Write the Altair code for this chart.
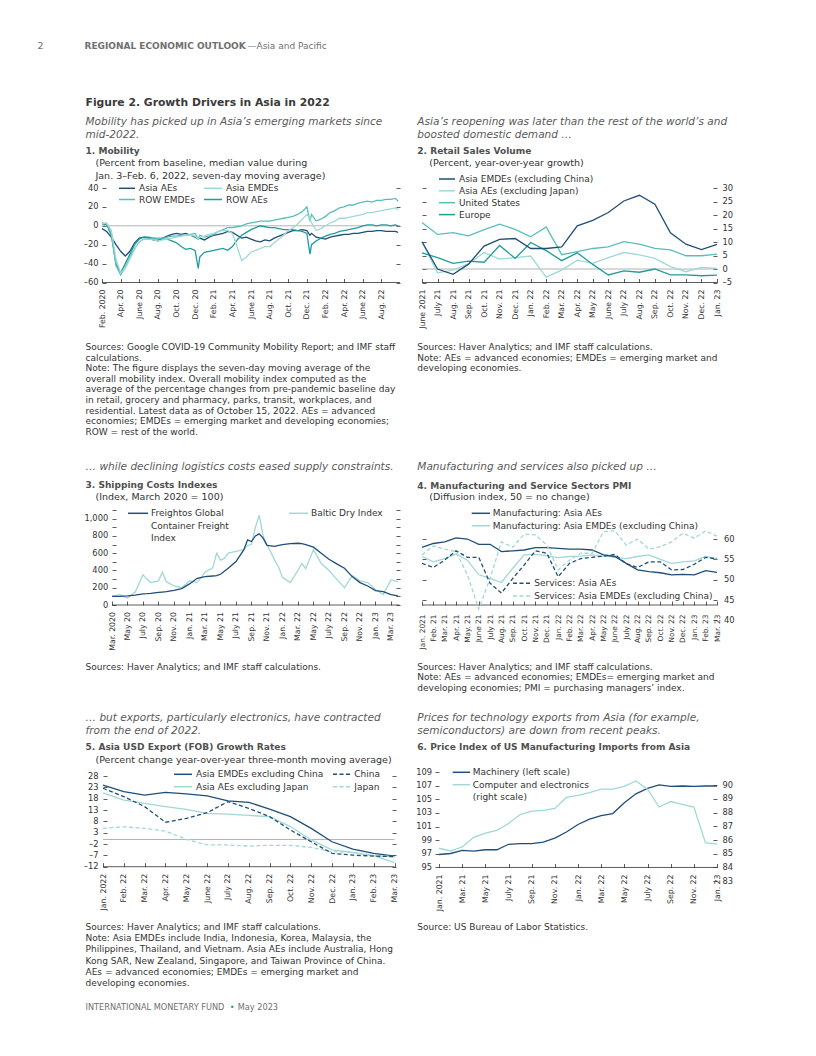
import altair as alt
import pandas as pd

FONT = "DejaVu Sans"
NAVY = "#1f4e79"
TEAL = "#1f9d9b"
MID = "#58bebc"
LIGHT = "#a0d8d6"
ZERO = "#a0a0a0"
INK = "#333333"
LEADC = "#5a5a5a"
HEADC = "#707070"
TITLEC = "#3a3a3a"
SUBC = "#505050"

# ---------------- Panel 1: Mobility ----------------
P1_T = [0, 0.5, 1, 1.5, 2, 2.5, 3, 3.5, 4, 4.5,
        5, 5.5, 6, 6.5, 7, 7.5, 8, 8.5, 9, 9.5,
        10, 10.33, 10.5, 11, 11.5, 12, 12.5, 13, 13.5, 14,
        14.5, 15, 15.5, 16, 16.5, 17, 17.5, 18, 18.5, 19,
        19.5, 20, 20.5, 21, 21.5, 22, 22.33, 22.5, 23, 23.5,
        24, 24.5, 25, 25.5, 26, 26.5, 27, 27.5, 28, 28.5,
        29, 29.5, 30, 30.5, 31, 31.5, 31.8]
P1_ASIA_AES = [-3, -6, -12, -20, -27, -32, -27, -18, -13, -12,
               -13, -15, -16, -13, -11, -9, -8, -9, -8, -10,
               -12, -14, -13, -15, -12, -10, -9, -8, -6, -7,
               -10, -13, -12, -14, -16, -17, -15, -16, -13, -11,
               -9, -7, -5, -5, -4, -5, -10, -8, -12, -13,
               -14, -12, -11, -10, -9, -9, -8, -8, -7, -6,
               -6, -5, -5, -6, -6, -6, -7]
P1_ASIA_EMDES = [2, 3, -5, -35, -50, -45, -35, -25, -17, -14,
                 -14, -15, -16, -15, -14, -13, -12, -11, -10, -10,
                 -11, -14, -12, -11, -9, -8, -6, -5, -5, -8,
                 -22, -37, -33, -28, -26, -24, -22, -22, -18, -14,
                 -10, -5, -2, 2, 7, 12, 8, 3, -5, -3,
                 0, 3, 5, 8, 8, 9, 10, 11, 12, 14,
                 14, 15, 16, 17, 18, 19, 17]
P1_ROW_EMDES = [3, 2, -8, -42, -52, -44, -33, -24, -17, -14,
                -14, -13, -13, -13, -12, -11, -11, -10, -10, -9,
                -8, -14, -10, -12, -11, -9, -6, -4, -2, -2,
                -1, 0, 2, 3, 4, 5, 5, 5, 6, 7,
                8, 9, 10, 12, 15, 20, 5, 12, 5, 7,
                10, 14, 16, 19, 20, 22, 22, 24, 25, 26,
                25, 27, 27, 28, 28, 29, 26]
P1_ROW_AES = [2, 1, -10, -40, -50, -40, -30, -20, -14, -12,
              -12, -13, -14, -14, -14, -16, -18, -22, -25, -24,
              -26, -45, -33, -28, -27, -26, -25, -24, -26, -22,
              -15, -10, -7, -4, -2, 0, -1, -2, -2, -3,
              -4, -4, -4, -5, -6, -8, -30, -20, -16, -13,
              -11, -9, -8, -6, -5, -4, -3, -2, 0, 1,
              1, 0, 1, 1, 0, 1, 0]
P1_XTICKS = list(range(0, 31, 2))
P1_XLABELS = ["Feb. 2020", "Apr. 20", "June 20", "Aug. 20", "Oct. 20", "Dec. 20",
              "Feb. 21", "Apr. 21", "June 21", "Aug. 21", "Oct. 21", "Dec. 21",
              "Feb. 22", "Apr. 22", "June 22", "Aug. 22"]
P1_YTICKS = [-60, -40, -20, 0, 20, 40]
P1_YLABELS = ["\u201360", "\u201340", "\u201320", "0", "20", "40"]

# ---------------- Panel 2: Retail sales ----------------
P2_X = list(range(20))
P2_ASIA_EMDES = [10.1, 0, -2, 1.8, 8.5, 11, 11.3, 7.6, 7.6, 8.2, 16, 18, 20.9, 25.2, 27.3, 24, 13.4, 9.2, 7.2, 9.1]
P2_ASIA_AES = [10, -1.4, -0.4, 2, 6.1, 3.7, 4.2, 4.8, -3, -0.4, 3.3, 2.1, 4.2, 6.1, 5.2, 3.9, 0.9, -1, 0.6, 0.2]
P2_US = [17.2, 12.8, 13.5, 12.3, 14.6, 16.6, 14.7, 11.9, 15.6, 5.3, 6.4, 7.6, 8.2, 10.1, 9.2, 7.6, 7.1, 4.9, 4.9, 5.5]
P2_EUROPE = [6, 4.2, 2.1, 2.9, 2.5, 8.7, 3.9, 9.8, 6.8, 3.1, 6, 1.7, -2.2, -0.7, -1.2, 0, -2.2, -2.2, -2.5, -2.3]
P2_XLABELS = ["June 2021", "July 21", "Aug. 21", "Sep. 21", "Oct. 21", "Nov. 21", "Dec. 21",
              "Jan. 22", "Feb. 22", "Mar. 22", "Apr. 22", "May 22", "June 22", "July 22",
              "Aug. 22", "Sep. 22", "Oct. 22", "Nov. 22", "Dec. 22", "Jan. 23"]
P2_YTICKS = [-5, 0, 5, 10, 15, 20, 25, 30]
P2_YLABELS = ["\u20135", "0", "5", "10", "15", "20", "25", "30"]

# ---------------- Panel 3: Shipping costs ----------------
P3_T = [0, 1, 2, 3, 4, 4.5, 5, 6, 6.5, 7,
        8, 9, 10, 11, 12, 13, 13.5, 14, 14.5, 15,
        16, 17, 17.5, 18, 18.5, 19, 19.5, 20, 21, 21.5,
        22, 23, 24, 24.5, 25, 26, 27, 28, 29, 30,
        31, 32, 33, 34, 35, 36, 36.9]
P3_FREIGHTOS = [100, 100, 105, 115, 130, 132, 135, 145, 150, 155,
                170, 190, 244, 309, 329, 336, 340, 356, 390, 425,
                503, 638, 754, 735, 800, 824, 774, 690, 680, 690,
                700, 710, 715, 710, 700, 670, 600, 530, 476, 425,
                329, 259, 220, 166, 155, 120, 105]
P3_BALTIC = [100, 120, 80, 150, 350, 300, 260, 280, 380, 270,
             220, 200, 280, 260, 380, 430, 600, 520, 540, 600,
             620, 640, 690, 700, 900, 1040, 800, 700, 520, 440,
             320, 260, 400, 480, 420, 640, 480, 400, 300, 200,
             340, 280, 260, 180, 120, 290, 270]
P3_XTICKS = list(range(0, 37, 2))
P3_XLABELS = ["Mar. 2020", "May 20", "July 20", "Sep. 20", "Nov. 20", "Jan. 21", "Mar. 21",
              "May 21", "July 21", "Sep. 21", "Nov. 21", "Jan. 22", "Mar. 22", "May 22",
              "July 22", "Sep. 22", "Nov. 22", "Jan. 23", "Mar. 23"]
P3_YTICKS = list(range(0, 1101, 100))
P3_YLABELS = ["0", "", "200", "", "400", "", "600", "", "800", "", "1,000", ""]

# ---------------- Panel 4: PMI ----------------
P4_X = list(range(27))
P4_MAN_AES = [57.95, 58.9, 59.3, 60.3, 60, 58.7, 58.7, 56.9, 57.1, 57.3, 57.9, 57.9, 57.7, 57.5,
              57.5, 57.3, 56.1, 55.7, 54, 52.4, 52, 51.7, 51.2, 51.3, 51.2, 52.2, 51.8]
P4_MAN_EMDES = [55.7, 54.4, 55.2, 56.3, 54.8, 51.2, 50.3, 49.3, 52.8, 56.1, 56.2, 55.9, 55.4, 55.7,
                55.8, 56.1, 55.8, 55.5, 55.2, 55.7, 56.1, 55, 54, 54.4, 54.6, 55.7, 55.1]
P4_SER_AES = [54, 53, 54.8, 57.1, 55.5, 55.5, 49.1, 46.7, 50.3, 53.6, 57.1, 56.5, 50.7, 54,
              55.2, 55.5, 55.8, 56.2, 53.9, 53, 54.4, 54.4, 52.4, 52.5, 53.8, 55.5, 55.1]
P4_SER_EMDES = [56.1, 58.3, 57.5, 56.9, 51.2, 42.8, 50.3, 59.3, 58, 61.2, 61, 58.5, 52.4, 54.8,
                56.5, 56.5, 61.8, 62, 58.5, 60, 57.5, 58.1, 59.3, 61.4, 60.2, 62, 60.7]
P4_XLABELS = ["Jan. 2021", "Feb. 21", "Mar. 21", "Apr. 21", "May. 21", "June 21", "July 21",
              "Aug. 21", "Sep. 21", "Oct. 21", "Nov. 21", "Dec. 21", "Jan. 22", "Feb. 22",
              "Mar. 22", "Apr. 22", "May 22", "June 22", "July 22", "Aug. 22", "Sep. 22",
              "Oct. 22", "Nov. 22", "Dec. 22", "Jan. 23", "Feb. 23", "Mar. 23"]
P4_YTICKS = [40, 45, 50, 55, 60]
P4_YLABELS = ["40", "45", "50", "55", "60"]
P4_BASE = 43.77

# ---------------- Panel 5: Exports ----------------
P5_X = list(range(15))
P5_EMDES_EX_CHINA = [24, 21.1, 19.6, 20.8, 20.1, 19.2, 17, 16.4, 13.4, 10.1, 4.9, -1, -4.2, -6.1, -7.3]
P5_AES_EX_JAPAN = [20.6, 17.4, 15.9, 14.5, 13.3, 11.5, 11.2, 10.6, 10.1, 5.7, -0.2, -4.6, -5.7, -7.1, -10.2]
P5_CHINA = [22.6, 18.9, 14.5, 7.6, 9.3, 11.8, 16.7, 13.7, 10.1, 4.2, -1, -6.1, -6.9, -7.3, -7.6]
P5_JAPAN = [4.9, 5.6, 4.9, 3.7, 0.1, -2.4, -2.4, -2.9, -2.6, -2.6, -3.5, -5.4, -5.7, -7.1, -7.6]
P5_XLABELS = ["Jan. 2022", "Feb. 22", "Mar. 22", "Apr. 22", "May 22", "June 22", "July 22",
              "Aug. 22", "Sep. 22", "Oct. 22", "Nov. 22", "Dec. 22", "Jan. 23", "Feb. 23", "Mar. 23"]
P5_YTICKS = [-12, -7, -2, 3, 8, 13, 18, 23, 28]
P5_YLABELS = ["\u201312", "\u20137", "\u20132", "3", "8", "13", "18", "23", "28"]

# ---------------- Panel 6: US import prices ----------------
P6_X = list(range(25))
P6_MACHINERY = [96.9, 97.05, 97.5, 97.4, 97.6, 97.6, 98.4, 98.5, 98.5, 98.7, 99.3, 100.2, 101.3,
                102.1, 102.6, 102.9, 104.5, 105.8, 106.6, 107.1, 106.9, 106.95, 106.9, 106.95, 106.95]
P6_COMPUTER = [85.4, 85.2, 85.5, 86.2, 86.5, 86.7, 87.2, 87.85, 88.1, 88.15, 88.3, 89.1, 89.25,
               89.45, 89.7, 89.7, 89.9, 90.3, 89.7, 88.4, 88.8, 88.6, 88.4, 85.8, 85.7]
P6_XTICKS = list(range(0, 25, 2))
P6_XLABELS = ["Jan. 2021", "Mar. 21", "May 21", "July 21", "Sep. 21", "Nov. 21", "Jan. 22",
              "Mar. 22", "May 22", "July 22", "Sep. 22", "Nov. 22", "Jan. 23"]
P6_YL_TICKS = [95, 97, 99, 101, 103, 105, 107, 109]
P6_YL_LABELS = ["95", "97", "99", "101", "103", "105", "107", "109"]
P6_YR_TICKS = [83, 84, 85, 86, 87, 88, 89, 90]
P6_YR_LABELS = ["83", "84", "85", "86", "87", "88", "89", "90"]

# ---------------- Texts ----------------
HEADER = [("2", 37.5, 45.5, 9.5, "normal", "normal", HEADC),
          ("REGIONAL ECONOMIC OUTLOOK", 84.5, 45.5, 9.0, "bold", "normal", HEADC),
          ("\u2014Asia and Pacific", 247.5, 45.5, 9.0, "normal", "normal", HEADC),
          ("Figure 2. Growth Drivers in Asia in 2022", 85.5, 102.5, 10.8, "bold", "normal", TITLEC)]

NOTES1 = ["Sources: Google COVID-19 Community Mobility Report; and IMF staff",
          "calculations.",
          "Note: The figure displays the seven-day moving average of the",
          "overall mobility index. Overall mobility index computed as the",
          "average of the percentage changes from pre-pandemic baseline day",
          "in retail, grocery and pharmacy, parks, transit, workplaces, and",
          "residential. Latest data as of October 15, 2022. AEs = advanced",
          "economies; EMDEs = emerging market and developing economies;",
          "ROW = rest of the world."]
NOTES2 = ["Sources: Haver Analytics; and IMF staff calculations.",
          "Note: AEs = advanced economies; EMDEs = emerging market and",
          "developing economies."]
NOTES3 = ["Sources: Haver Analytics; and IMF staff calculations."]
NOTES4 = ["Sources: Haver Analytics; and IMF staff calculations.",
          "Note: AEs = advanced economies; EMDEs= emerging market and",
          "developing economies; PMI = purchasing managers\u2019 index."]
NOTES5 = ["Sources: Haver Analytics; and IMF staff calculations.",
          "Note: Asia EMDEs include India, Indonesia, Korea, Malaysia, the",
          "Philippines, Thailand, and Vietnam. Asia AEs include Australia, Hong",
          "Kong SAR, New Zealand, Singapore, and Taiwan Province of China.",
          "AEs = advanced economies; EMDEs = emerging market and",
          "developing economies."]
NOTES6 = ["Source: US Bureau of Labor Statistics."]

LX = 85.5   # left column text start
RX = 417.3  # right column text start
NS = 9.0    # note font size
LS = 9.0    # legend font size
PS = 9.5    # parenthetical font size
TS = 9.05   # panel title font size
LEAD_S = 10.55
YLS = 8.3   # y tick label size
XLS = 7.8   # x tick label size


def T(txt, x, y, size=LS, weight="normal", style="normal", color=INK):
    return (txt, x, y, size, weight, style, color)


def lead(lines, x, y0):
    return [T(l, x, y0 + 13 * i, LEAD_S, "normal", "italic", LEADC) for i, l in enumerate(lines)]


def notes(lines, x, y0, step):
    return [T(l, x, y0 + step * i, NS) for i, l in enumerate(lines)]


def lab_expr(values, labels):
    expr = "''"
    for v, l in reversed(list(zip(values, labels))):
        expr = "datum.value == %s ? '%s' : %s" % (repr(v), l, expr)
    return expr


def xaxis(vals, labels, pad=6.5, size=XLS, offset=-4):
    return alt.Axis(orient="bottom", values=vals, labelExpr=lab_expr(vals, labels), labelAngle=-90,
                    labelFontSize=size, labelColor=INK, labelPadding=pad, labelOverlap=False,
                    labelFlush=False, tickSize=4, tickColor=INK, tickWidth=0.8, domain=False,
                    grid=False, offset=offset, title=None)


def yaxis(orient, vals, labels=None, offset=-4, pad=4, ticks=True, size=YLS):
    kw = dict(orient=orient, values=vals, tickSize=4, tickColor=INK, tickWidth=0.8, domain=False,
              grid=False, offset=offset, title=None, labelFontSize=size, labelColor=INK,
              labelPadding=pad, labelOverlap=False, ticks=ticks)
    if labels is None:
        kw["labels"] = False
    else:
        kw["labelExpr"] = lab_expr(vals, labels)
    return alt.Axis(**kw)


def line_df(x, items):
    rows = []
    for name, vals, color in items:
        for a, b in zip(x, vals):
            rows.append({"x": a, "v": b, "s": name, "c": color})
    return pd.DataFrame(rows)


def text_layers(items, ox, oy):
    out = []
    for txt, px, py, size, weight, style, color in items:
        out.append(alt.Chart(pd.DataFrame({"t": [txt]})).mark_text(
            align="left", baseline="middle", fontSize=size, fontWeight=weight,
            fontStyle=style, color=color).encode(
            text="t:N", x=alt.value(px - ox), y=alt.value(py - oy)))
    return out


def legend_layers(items, ox, oy):
    out = []
    for x1, x2, y, color, dashed in items:
        kw = {"strokeDash": [4, 2.5]} if dashed else {}
        out.append(alt.Chart(pd.DataFrame({"a": [0]})).mark_rule(
            color=color, strokeWidth=1.5, **kw).encode(
            x=alt.value(x1 - ox), x2=alt.value(x2 - ox), y=alt.value(y - oy)))
    return out


def box_layer(box, ox, oy):
    bx1, by1, bx2, by2 = box
    return alt.Chart(pd.DataFrame({"a": [0]})).mark_rule(opacity=0).encode(
        x=alt.value(bx1 - ox), x2=alt.value(bx2 - ox), y=alt.value(by1 - oy), y2=alt.value(by2 - oy))


def single_panel(ox, oy, W, H, xdom, ydom, x, solid, dashed, xax, yleft, yright,
                 texts, legend, box, xrange=None, zero=False, base=None):
    skw = dict(domain=xdom, nice=False, zero=False)
    if xrange is not None:
        skw["range"] = xrange
    xs = alt.Scale(**skw)
    ys = alt.Scale(domain=ydom, nice=False, zero=False)
    layers = []
    rules = [{"x0": xdom[0], "x1": xdom[1], "v": ydom[0] if base is None else base, "c": INK}]
    if zero:
        rules.insert(0, {"x0": xdom[0], "x1": xdom[1], "v": 0, "c": ZERO})
    layers.append(alt.Chart(pd.DataFrame(rules)).mark_rule(strokeWidth=0.8).encode(
        x=alt.X("x0:Q", scale=xs, axis=None), x2="x1:Q",
        y=alt.Y("v:Q", scale=ys, axis=None), color=alt.Color("c:N", scale=None)))
    sdf = line_df(x, solid)
    layers.append(alt.Chart(sdf).mark_line(strokeWidth=1.3).encode(
        x=alt.X("x:Q", scale=xs, axis=xax), y=alt.Y("v:Q", scale=ys, axis=yleft),
        color=alt.Color("c:N", scale=None), detail="s:N"))
    if dashed:
        ddf = line_df(x, dashed)
        layers.append(alt.Chart(ddf).mark_line(strokeWidth=1.3, strokeDash=[4, 2.5]).encode(
            x=alt.X("x:Q", scale=xs, axis=None), y=alt.Y("v:Q", scale=ys, axis=None),
            color=alt.Color("c:N", scale=None), detail="s:N"))
    layers.append(alt.Chart(sdf).mark_line(opacity=0).encode(
        x=alt.X("x:Q", scale=xs, axis=None), y=alt.Y("v:Q", scale=ys, axis=yright), detail="s:N"))
    layers += legend_layers(legend, ox, oy)
    layers += text_layers(texts, ox, oy)
    layers.append(box_layer(box, ox, oy))
    return alt.layer(*layers).properties(width=W, height=H).resolve_axis(x="independent", y="independent")


# ---------------- Panel 1 ----------------
O1 = (102, 188)
p1_texts = HEADER + lead(["Mobility has picked up in Asia\u2019s emerging markets since", "mid-2022."], LX, 121.5) + [
    T("1. Mobility", LX, 151.2, TS, "bold", "normal", SUBC),
    T("(Percent from baseline, median value during", 95.5, 163.2, PS),
    T("Jan. 3\u2013Feb. 6, 2022, seven-day moving average)", 95.5, 176, PS),
    T("Asia AEs", 139, 188.3), T("Asia EMDEs", 226, 188.3),
    T("ROW EMDEs", 139, 199.5), T("ROW AEs", 226, 199.5)] + notes(NOTES1, LX, 347, 10.6)
p1 = single_panel(
    O1[0], O1[1], 298, 94.5, [0, 32], [-60, 40], P1_T,
    [("Asia AEs", P1_ASIA_AES, NAVY), ("ROW AEs", P1_ROW_AES, TEAL),
     ("ROW EMDEs", P1_ROW_EMDES, MID), ("Asia EMDEs", P1_ASIA_EMDES, LIGHT)], [],
    xaxis(P1_XTICKS, P1_XLABELS), yaxis("left", P1_YTICKS, P1_YLABELS, pad=4),
    yaxis("right", P1_YTICKS, None),
    p1_texts,
    [(119, 135, 188.3, NAVY, False), (204, 222, 188.3, LIGHT, False),
     (119, 135, 199.5, MID, False), (204, 222, 199.5, TEAL, False)],
    (8, 8, 408, 452), zero=True)

# ---------------- Panel 2 ----------------
O2 = (422, 188)
p2_texts = lead(["Asia\u2019s reopening was later than the rest of the world\u2019s and", "boosted domestic demand \u2026"], RX, 121.5) + [
    T("2. Retail Sales Volume", RX, 151.2, TS, "bold", "normal", SUBC),
    T("(Percent, year-over-year growth)", 429.3, 163.2, PS),
    T("Asia EMDEs (excluding China)", 459, 179), T("Asia AEs (excluding Japan)", 459, 190.8),
    T("United States", 459, 202.7), T("Europe", 459, 214.6)] + notes(NOTES2, RX, 347, 10.6)
p2 = single_panel(
    O2[0], O2[1], 295, 94.5, [0, 19], [-5, 30], P2_X,
    [("Asia AEs (excluding Japan)", P2_ASIA_AES, LIGHT), ("United States", P2_US, MID),
     ("Europe", P2_EUROPE, TEAL), ("Asia EMDEs (excluding China)", P2_ASIA_EMDES, NAVY)], [],
    xaxis(P2_X, P2_XLABELS), yaxis("left", P2_YTICKS, None),
    yaxis("right", P2_YTICKS, P2_YLABELS, pad=5),
    p2_texts,
    [(439, 455, 179, NAVY, False), (439, 455, 190.8, LIGHT, False),
     (439, 455, 202.7, MID, False), (439, 455, 214.6, TEAL, False)],
    (408, 8, 800, 452), zero=True)

# ---------------- Panel 3 ----------------
O3 = (102, 510)
p3_texts = lead(["\u2026 while declining logistics costs eased supply constraints."], LX, 466.7) + [
    T("3. Shipping Costs Indexes", LX, 485, TS, "bold", "normal", SUBC),
    T("(Index, March 2020 = 100)", 95.5, 497, PS),
    T("Freightos Global", 151, 513.3), T("Container Freight", 151, 525.6), T("Index", 151, 537.8),
    T("Baltic Dry Index", 311, 513.3)] + notes(NOTES3, LX, 666.5, 10.6)
p3 = single_panel(
    O3[0], O3[1], 298, 95, [0, 37.1], [0, 1100], P3_T,
    [("Baltic Dry Index", P3_BALTIC, LIGHT), ("Freightos", P3_FREIGHTOS, NAVY)], [],
    xaxis(P3_XTICKS, P3_XLABELS), yaxis("left", P3_YTICKS, P3_YLABELS, offset=-14, pad=4.3),
    yaxis("right", P3_YTICKS, None),
    p3_texts,
    [(128, 148, 513.3, NAVY, False), (289, 308, 513.3, LIGHT, False)],
    (8, 452, 408, 700), xrange=[10, 297.5])

# ---------------- Panel 4 ----------------
O4 = (422, 526)
P4_PX = 4.066  # pixels per index point
p4_texts = lead(["Manufacturing and services also picked up \u2026"], RX, 466.7) + [
    T("4. Manufacturing and Service Sectors PMI", RX, 486, TS, "bold", "normal", SUBC),
    T("(Diffusion index, 50 = no change)", 429.3, 497.3, PS),
    T("Manufacturing: Asia AEs", 492.7, 513.3), T("Manufacturing: Asia EMDEs (excluding China)", 492.7, 525.7),
    T("Services: Asia AEs", 534.3, 583.3), T("Services: Asia EMDEs (excluding China)", 534.3, 596)] + notes(NOTES4, RX, 666.5, 10.6)
p4 = single_panel(
    O4[0], O4[1], 295, (63.2 - 40) * P4_PX, [0, 26], [40, 63.2], P4_X,
    [("Man EMDEs", P4_MAN_EMDES, LIGHT), ("Man AEs", P4_MAN_AES, NAVY)],
    [("Ser EMDEs", P4_SER_EMDES, LIGHT), ("Ser AEs", P4_SER_AES, NAVY)],
    xaxis(P4_X, P4_XLABELS, pad=9, size=7.4, offset=-(4 + (P4_BASE - 40) * P4_PX)),
    yaxis("left", [45, 50, 55, 60], None),
    yaxis("right", P4_YTICKS, P4_YLABELS, pad=6.5),
    p4_texts,
    [(471.7, 490, 513.3, NAVY, False), (471.7, 490, 525.7, LIGHT, False),
     (513, 532, 583.3, NAVY, True), (513, 532, 596, LIGHT, True)],
    (408, 452, 800, 700), base=P4_BASE)

# ---------------- Panel 5 ----------------
O5 = (102, 776)
FOOT = [T("INTERNATIONAL MONETARY FUND", LX, 1007.5, 8.2, "normal", "normal", HEADC),
        T("\u2022", 229.8, 1007.5, 8.2, "normal", "normal", TEAL),
        T("May 2023", 237.7, 1007.5, 8.2, "normal", "normal", HEADC)]
p5_texts = lead(["\u2026 but exports, particularly electronics, have contracted", "from the end of 2022."], LX, 718.3) + [
    T("5. Asia USD Export (FOB) Growth Rates", LX, 747.3, TS, "bold", "normal", SUBC),
    T("(Percent change year-over-year three-month moving average)", 95.5, 760, PS),
    T("Asia EMDEs excluding China", 196, 774.3), T("Asia AEs excluding Japan", 196, 786.7),
    T("China", 354.3, 774.3), T("Japan", 354.3, 786.7)] + notes(NOTES5, LX, 926.7, 11.3) + FOOT
p5 = single_panel(
    O5[0], O5[1], 294, 90.7, [0, 14], [-12, 28], P5_X,
    [("AEs ex Japan", P5_AES_EX_JAPAN, LIGHT), ("EMDEs ex China", P5_EMDES_EX_CHINA, NAVY)],
    [("Japan", P5_JAPAN, LIGHT), ("China", P5_CHINA, NAVY)],
    xaxis(P5_X, P5_XLABELS), yaxis("left", P5_YTICKS, P5_YLABELS, offset=-5, pad=5),
    yaxis("right", P5_YTICKS, None),
    p5_texts,
    [(174, 192, 774.3, NAVY, False), (174, 192, 786.7, LIGHT, False),
     (333, 350, 774.3, NAVY, True), (333, 350, 786.7, LIGHT, True)],
    (8, 700, 408, 1030), xrange=[1, 292.5], zero=True)

# ---------------- Panel 6 (dual axis) ----------------
O6 = (422, 772)
W6 = 295
PXR = 13.74            # pixels per point, right scale
PXL = PXR / 2.015      # pixels per point, left scale
H6 = (90.95 - 83) * PXR
L_LOW = 109 - H6 / PXL
xs6 = alt.Scale(domain=[0, 24], nice=False, zero=False, range=[17, 295])
ysl = alt.Scale(domain=[L_LOW, 109], nice=False, zero=False)
ysr = alt.Scale(domain=[83, 90.95], nice=False, zero=False)
p6_texts = lead(["Prices for technology exports from Asia (for example,", "semiconductors) are down from recent peaks."], RX, 718.3) + [
    T("6. Price Index of US Manufacturing Imports from Asia", RX, 747.3, TS, "bold", "normal", SUBC),
    T("Machinery (left scale)", 472.7, 772.3), T("Computer and electronics", 472.7, 784.7),
    T("(right scale)", 472.7, 796.7)] + notes(NOTES6, RX, 926.7, 10.6)
mach_df = line_df(P6_X, [("Machinery", P6_MACHINERY, NAVY)])
comp_df = line_df(P6_X, [("Computer", P6_COMPUTER, LIGHT)])
x6off = -(4 + (95 - L_LOW) * PXL)
p6_layers = [
    alt.Chart(pd.DataFrame([{"x0": 0, "x1": 24, "v": 95, "c": INK}])).mark_rule(strokeWidth=0.8).encode(
        x=alt.X("x0:Q", scale=xs6, axis=None), x2="x1:Q",
        y=alt.Y("v:Q", scale=ysl, axis=None), color=alt.Color("c:N", scale=None)),
    alt.Chart(mach_df).mark_line(strokeWidth=1.3).encode(
        x=alt.X("x:Q", scale=xs6, axis=xaxis(P6_XTICKS, P6_XLABELS, offset=x6off)),
        y=alt.Y("v:Q", scale=ysl, axis=yaxis("left", P6_YL_TICKS, P6_YL_LABELS, offset=-17, pad=3.5)),
        color=alt.Color("c:N", scale=None)),
    alt.Chart(comp_df).mark_line(strokeWidth=1.3).encode(
        x=alt.X("x:Q", scale=xs6, axis=None),
        y=alt.Y("v:Q", scale=ysr, axis=yaxis("right", P6_YR_TICKS, P6_YR_LABELS, pad=5)),
        color=alt.Color("c:N", scale=None)),
]
p6_layers += legend_layers([(452.7, 470, 772.3, NAVY, False), (452.7, 470, 784.7, LIGHT, False)], *O6)
p6_layers += text_layers(p6_texts, *O6)
p6_layers.append(box_layer((408, 700, 800, 1030), *O6))
p6 = alt.layer(*p6_layers).properties(width=W6, height=H6).resolve_scale(y="independent").resolve_axis(
    x="independent", y="independent")

left = alt.vconcat(p1, p3, p5, spacing=0)
right = alt.vconcat(p2, p4, p6, spacing=0)
chart = alt.hconcat(left, right, spacing=0).properties(padding=0).configure(
    font=FONT).configure_view(strokeWidth=0)

chart.save("out.html", embed_options={"renderer": "svg", "actions": False})
